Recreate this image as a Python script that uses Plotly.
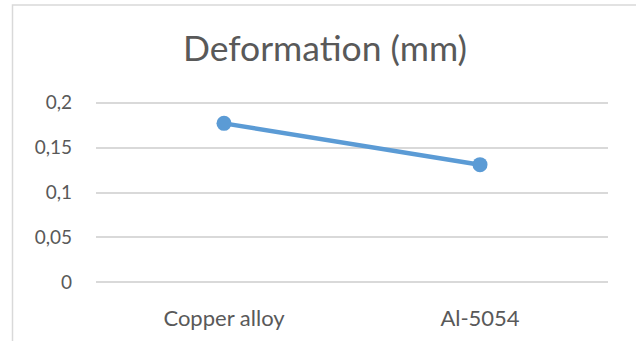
import plotly.graph_objects as go

categories = ["Copper alloy", "Al-5054"]
deformation = [0.177, 0.131]
y_ticks = [0, 0.05, 0.1, 0.15, 0.2]
y_tick_labels = ["0", "0,05", "0,1", "0,15", "0,2"]

FONT = "Lato, 'Open Sans', sans-serif"
TXT = "#595959"

PAD = 0.003  # small pad so edge gridlines are drawn
fig = go.Figure()
fig.add_trace(go.Scatter(
    x=categories, y=deformation, mode="lines+markers",
    line=dict(color="#5b9bd5", width=4.5),
    marker=dict(color="#5b9bd5", size=15),
    showlegend=False, cliponaxis=False, hoverinfo="skip",
))

top_px, bot_px = 102.5 - PAD * 900, 282.5 + PAD * 900
plot_h = bot_px - top_px
fig.update_layout(
    width=636, height=341,
    margin=dict(l=96, r=28, t=top_px, b=341 - bot_px, autoexpand=False),
    paper_bgcolor="white", plot_bgcolor="white",
    title=dict(text="Deformation (mm)", x=0.511, xanchor="center",
               y=1 - 49 / 341, yanchor="middle", automargin=False,
               font=dict(family=FONT, size=35.5, color=TXT)),
    font=dict(family=FONT, color=TXT),
    xaxis=dict(type="category", range=[-0.5, 1.5], showgrid=False,
               showline=False, zeroline=False, ticks="", automargin=False,
               tickfont=dict(size=22, color=TXT), ticklabelstandoff=18),
    yaxis=dict(range=[-PAD, 0.2 + PAD], tickvals=y_ticks, ticktext=y_tick_labels,
               showgrid=True, gridcolor="#d9d9d9", gridwidth=1.5,
               zeroline=False, showline=False, ticks="", automargin=False,
               tickfont=dict(size=19, color=TXT), ticklabelstandoff=23),
    shapes=[dict(type="rect", xref="paper", yref="paper",
                 x0=(12.5 - 96) / 512, x1=1.2, y0=-0.5,
                 y1=(bot_px - 4.5) / plot_h,
                 line=dict(color="#d9d9d9", width=1.5), fillcolor="rgba(0,0,0,0)",
                 layer="below")],
)

fig.write_html(
    "out.html",
    config={"displayModeBar": False},
    post_script="document.body.style.margin='0';document.body.style.padding='0';"
                "document.body.style.overflow='hidden';",
)
